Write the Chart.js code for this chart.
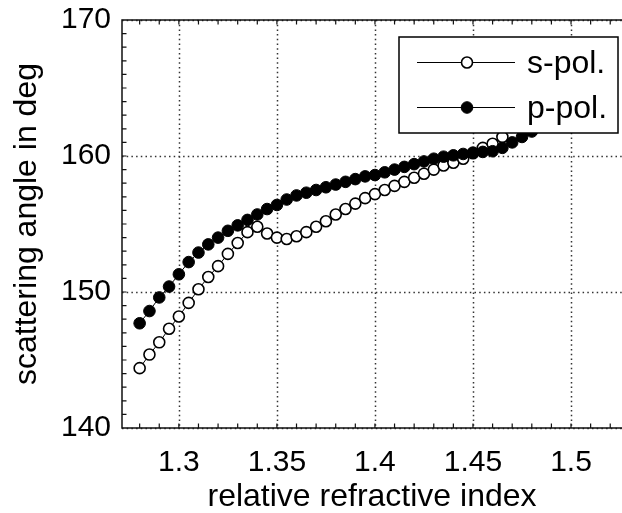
<!DOCTYPE html>
<html>
<head>
<meta charset="utf-8">
<script src="https://cdn.jsdelivr.net/npm/chart.js@4"></script>
<style>
  html, body { margin: 0; padding: 0; background: #fff; }
  #wrap { width: 622px; height: 513px; }
</style>
</head>
<body>
<div id="wrap"><canvas id="chart" width="622" height="513"></canvas></div>
<script>
// relative refractive index (x) and scattering angle in deg (y)
const refrIndex = [1.28, 1.285, 1.29, 1.295, 1.30, 1.305, 1.31, 1.315, 1.32, 1.325,
                   1.33, 1.335, 1.34, 1.345, 1.35, 1.355, 1.36, 1.365, 1.37, 1.375,
                   1.38, 1.385, 1.39, 1.395, 1.40, 1.405, 1.41, 1.415, 1.42, 1.425,
                   1.43, 1.435, 1.44, 1.445, 1.45, 1.455, 1.46, 1.465, 1.47, 1.475,
                   1.48, 1.485, 1.49, 1.495, 1.50];
const sPol = [144.4, 145.4, 146.3, 147.3, 148.2, 149.2, 150.2, 151.1, 151.9, 152.8,
              153.6, 154.4, 154.8, 154.3, 154.0, 153.9, 154.1, 154.4, 154.8, 155.2,
              155.7, 156.1, 156.5, 156.9, 157.2, 157.5, 157.8, 158.1, 158.4, 158.7,
              159.0, 159.3, 159.5, 159.8, 160.2, 160.6, 160.9, 161.4, 162.2, 162.7,
              163.2, 163.7, 164.2, 164.7, 165.2];
const pPol = [147.7, 148.6, 149.6, 150.4, 151.3, 152.2, 152.9, 153.5, 154.0, 154.5,
              154.9, 155.3, 155.7, 156.1, 156.4, 156.8, 157.1, 157.3, 157.5, 157.7,
              157.9, 158.1, 158.3, 158.5, 158.6, 158.8, 159.0, 159.2, 159.4, 159.6,
              159.8, 159.95, 160.05, 160.15, 160.25, 160.3, 160.35, 160.6, 161.0, 161.4,
              161.8, 162.2, 162.6, 163.0, 163.4];
const seriesNames = ['s-pol.', 'p-pol.'];
const xTickLabels = [1.3, 1.35, 1.4, 1.45, 1.5];
const yTickLabels = [140, 150, 160, 170];

const X_MIN = 1.271, X_MAX = 1.526, Y_MIN = 140, Y_MAX = 170;
const FONT = '"Liberation Sans", Arial, sans-serif';

Chart.defaults.font.family = FONT;
Chart.defaults.color = '#000';

const toPts = ys => refrIndex.map((x, i) => ({ x, y: ys[i] }));

// dotted grid under the data
const gridPlugin = {
  id: 'grid',
  beforeDatasetsDraw(chart) {
    const { ctx, chartArea: a, scales: { x, y } } = chart;
    ctx.save();
    ctx.strokeStyle = '#333';
    ctx.lineWidth = 1.5;
    ctx.setLineDash([1.5, 3.2]);
    ctx.beginPath();
    xTickLabels.forEach(v => {
      const px = Math.round(x.getPixelForValue(v)) + 0.5;
      ctx.moveTo(px, a.top); ctx.lineTo(px, a.bottom);
    });
    yTickLabels.forEach(v => {
      const py = Math.round(y.getPixelForValue(v)) + 0.5;
      ctx.moveTo(a.left, py); ctx.lineTo(a.right, py);
    });
    ctx.stroke();
    ctx.restore();
  }
};

// axes box, inward ticks and the legend on top of the data
const framePlugin = {
  id: 'frame',
  afterDatasetsDraw(chart) {
    const { ctx, chartArea: a, scales: { x, y } } = chart;
    ctx.save();
    ctx.strokeStyle = '#111';
    ctx.lineWidth = 1.5;
    ctx.beginPath();
    ctx.moveTo(a.right, a.top); ctx.lineTo(a.left, a.top);
    ctx.lineTo(a.left, a.bottom); ctx.lineTo(a.right, a.bottom);
    ctx.stroke();

    const len = 4.5;
    ctx.lineWidth = 1.2;
    ctx.beginPath();
    for (let v = 1.28; v <= X_MAX; v += 0.01) {
      const px = x.getPixelForValue(v);
      ctx.moveTo(px, a.bottom); ctx.lineTo(px, a.bottom - len);
      ctx.moveTo(px, a.top); ctx.lineTo(px, a.top + len);
    }
    for (let v = Y_MIN + 1; v < Y_MAX; v += 1) {
      const py = y.getPixelForValue(v);
      ctx.moveTo(a.left, py); ctx.lineTo(a.left + len, py);
    }
    ctx.stroke();

    // legend
    const bx = a.right - 223, by = a.top + 17, bw = 219, bh = 96;
    ctx.fillStyle = '#fff';
    ctx.fillRect(bx, by, bw, bh);
    ctx.strokeStyle = '#000';
    ctx.lineWidth = 1.5;
    ctx.strokeRect(bx, by, bw, bh);
    chart.data.datasets.forEach((ds, i) => {
      const ry = by + 25.5 + i * 45;
      ctx.strokeStyle = '#000';
      ctx.lineWidth = 1;
      ctx.beginPath();
      ctx.moveTo(bx + 18, ry); ctx.lineTo(bx + 116, ry);
      ctx.stroke();
      ctx.beginPath();
      ctx.arc(bx + 68, ry, ds.pointRadius, 0, Math.PI * 2);
      ctx.fillStyle = ds.pointBackgroundColor;
      ctx.fill();
      ctx.lineWidth = ds.pointBorderWidth;
      ctx.stroke();
      ctx.fillStyle = '#000';
      ctx.font = '32px ' + FONT;
      ctx.textBaseline = 'middle';
      ctx.textAlign = 'left';
      ctx.fillText(ds.label, bx + 128, ry + 1.5);
    });
    ctx.restore();
  }
};

new Chart(document.getElementById('chart'), {
  type: 'scatter',
  data: {
    datasets: [
      {
        label: seriesNames[0],
        data: toPts(sPol),
        showLine: true,
        borderColor: '#000',
        borderWidth: 1,
        pointRadius: 5.5,
        pointBorderWidth: 1.6,
        pointBorderColor: '#000',
        pointBackgroundColor: '#fff',
        order: 1
      },
      {
        label: seriesNames[1],
        data: toPts(pPol),
        showLine: true,
        borderColor: '#000',
        borderWidth: 1,
        pointRadius: 5.8,
        pointBorderWidth: 1,
        pointBorderColor: '#000',
        pointBackgroundColor: '#000',
        order: 0
      }
    ]
  },
  options: {
    responsive: false,
    animation: false,
    devicePixelRatio: 1,
    layout: { autoPadding: false, padding: { top: 20, right: 0, bottom: 0, left: 0 } },
    plugins: { legend: { display: false }, tooltip: { enabled: false } },
    scales: {
      x: {
        type: 'linear',
        min: X_MIN, max: X_MAX,
        grid: { display: false, drawTicks: false },
        border: { display: false },
        afterBuildTicks: s => { s.ticks = xTickLabels.map(v => ({ value: v })); },
        afterFit: s => { s.height = 85; s.paddingLeft = 0; s.paddingRight = 0; },
        ticks: {
          padding: 17,
          maxRotation: 0,
          font: { size: 30 },
          color: '#000',
          callback: v => String(+(+v).toFixed(2))
        },
        title: {
          display: true,
          text: 'relative refractive index',
          font: { size: 32, lineHeight: 1 },
          padding: { top: 0, bottom: 0 },
          color: '#000'
        }
      },
      y: {
        type: 'linear',
        min: Y_MIN, max: Y_MAX,
        grid: { display: false, drawTicks: false },
        border: { display: false },
        afterBuildTicks: s => { s.ticks = yTickLabels.map(v => ({ value: v })); },
        afterFit: s => { s.width = 122; s.paddingTop = 0; s.paddingBottom = 0; },
        ticks: {
          padding: 11,
          font: { size: 30 },
          color: '#000',
          callback: v => String(v)
        },
        title: {
          display: true,
          text: 'scattering angle in deg',
          font: { size: 32, lineHeight: 1 },
          padding: { top: 11, bottom: 0 },
          color: '#000'
        }
      }
    }
  },
  plugins: [gridPlugin, framePlugin]
});
</script>
</body>
</html>
